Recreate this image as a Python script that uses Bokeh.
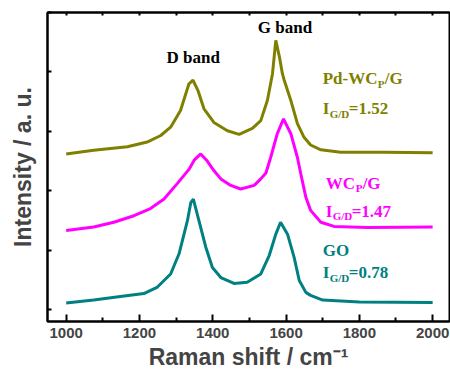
from bokeh.plotting import figure
from bokeh.models import Range1d, LinearAxis, Label, FixedTicker, CustomJSTickFormatter
from bokeh.embed import file_html
from bokeh.resources import INLINE

# ---- data (Raman shift in cm^-1, intensity in offset arbitrary units) ----
go_shift = [1000, 1075, 1148, 1212, 1249, 1285, 1308, 1331, 1340, 1347, 1362, 1381, 1399, 1422,
            1458, 1494, 1531, 1554, 1572, 1585, 1604, 1622, 1636, 1654, 1667, 1700, 1800, 2000]
go_int = [0.11, 0.16, 0.22, 0.27, 0.38, 0.60, 0.94, 1.50, 1.80, 1.86, 1.50, 1.05, 0.71, 0.54,
          0.44, 0.46, 0.60, 0.91, 1.27, 1.47, 1.27, 0.88, 0.49, 0.29, 0.24, 0.16, 0.13, 0.12]

wc_shift = [1000, 1075, 1130, 1185, 1230, 1267, 1303, 1335, 1350, 1367, 1385, 1403, 1422, 1449,
            1476, 1513, 1531, 1545, 1558, 1576, 1593, 1613, 1631, 1640, 1654, 1667, 1695, 1731, 1822, 2000]
wc_int = [1.33, 1.39, 1.47, 1.58, 1.70, 1.86, 2.12, 2.36, 2.52, 2.62, 2.50, 2.34, 2.20, 2.09,
          2.03, 2.09, 2.20, 2.30, 2.56, 2.96, 3.21, 2.96, 2.56, 2.29, 1.89, 1.67, 1.47, 1.40, 1.38, 1.39]

pd_shift = [1000, 1075, 1167, 1221, 1258, 1285, 1312, 1335, 1346, 1360, 1376, 1403, 1440, 1472,
            1508, 1531, 1549, 1563, 1572, 1582, 1590, 1595, 1613, 1631, 1649, 1667, 1695, 1749, 1867, 2000]
pd_int = [2.62, 2.68, 2.74, 2.82, 2.93, 3.07, 3.35, 3.80, 3.86, 3.68, 3.38, 3.15, 3.01, 2.95,
          3.05, 3.18, 3.52, 3.97, 4.53, 4.25, 3.97, 3.86, 3.52, 3.13, 2.90, 2.77, 2.69, 2.65, 2.65, 2.64]

x_major_ticks = [1000, 1200, 1400, 1600, 1800, 2000]
x_minor_ticks = [1100, 1300, 1500, 1700, 1900]
x_top_ticks = [1000, 1100, 1200, 1300, 1400, 1500, 1600, 1700, 1800, 1900, 2000]
y_ticks = [0, 1, 2, 3, 4, 5]

OLIVE = "#808000"
MAGENTA = "#FF00FF"
TEAL = "#008080"
SANS = "Liberation Sans"
SERIF = "Liberation Serif"

p = figure(width=450, height=373, output_backend="svg", toolbar_location=None,
           x_range=Range1d(949, 2046), y_range=Range1d(-0.2, 5.0),
           min_border_left=47, min_border_right=1, min_border_top=12, min_border_bottom=52)
p.grid.visible = False
p.outline_line_color = "black"
p.outline_line_width = 2
p.background_fill_color = "white"
p.border_fill_color = "white"

# bottom axis
xa = p.xaxis[0]
xa.ticker = FixedTicker(ticks=x_major_ticks, minor_ticks=x_minor_ticks)
xa.major_tick_in = 7
xa.major_tick_out = 0
xa.minor_tick_in = 4
xa.minor_tick_out = 0
xa.axis_line_width = 2
xa.major_tick_line_width = 2
xa.minor_tick_line_width = 2
xa.major_label_text_font = SANS
xa.major_label_text_font_style = "bold"
xa.major_label_text_font_size = "15px"
xa.major_label_standoff = 6
xa.axis_label = "Raman shift / cm\u207b\u00b9"
xa.axis_label_text_font = SANS
xa.axis_label_text_font_style = "bold"
xa.axis_label_text_font_size = "23px"
xa.axis_label_standoff = 3

# left axis
ya = p.yaxis[0]
ya.ticker = FixedTicker(ticks=y_ticks, minor_ticks=[])
ya.major_tick_in = 4
ya.major_tick_out = 0
ya.axis_line_width = 2
ya.major_tick_line_width = 2
ya.formatter = CustomJSTickFormatter(code="return ''")
ya.major_label_standoff = 0
ya.axis_label = "Intensity / a. u."
ya.axis_label_text_font = SANS
ya.axis_label_text_font_style = "bold"
ya.axis_label_text_font_size = "23px"
ya.axis_label_standoff = 12

# top axis (ticks only)
top = LinearAxis(ticker=FixedTicker(ticks=x_top_ticks, minor_ticks=[]),
                 formatter=CustomJSTickFormatter(code="return ''"),
                 major_tick_in=3, major_tick_out=0, axis_line_width=2,
                 major_tick_line_width=2, major_label_standoff=0,
                 major_label_text_font_size="0px")
p.add_layout(top, "above")

# spectra
p.line(go_shift, go_int, line_color=TEAL, line_width=3)
p.line(wc_shift, wc_int, line_color=MAGENTA, line_width=3)
p.line(pd_shift, pd_int, line_color=OLIVE, line_width=3)


def lab(text, x, y, color, size="17px", dx=0, dy=0, font=SERIF):
    p.add_layout(Label(x=x, y=y, x_units="data", y_units="data", text=text,
                       x_offset=dx, y_offset=dy + 5, text_font=font, text_font_style="bold",
                       text_font_size=size, text_color=color, text_align="left",
                       text_baseline="alphabetic"))


lab("D band", 1274, 4.16, "black")
lab("G band", 1523, 4.66, "black")

lab("Pd-WC", 1700, 3.80, OLIVE)
lab("P", 1700, 3.80, OLIVE, size="11px", dx=55, dy=-5)
lab("/G", 1700, 3.80, OLIVE, dx=62)
lab("I", 1700, 3.30, OLIVE)
lab("G/D", 1700, 3.30, OLIVE, size="11px", dx=7, dy=-5)
lab("=1.52", 1700, 3.30, OLIVE, dx=26)

lab("WC", 1708, 2.04, MAGENTA)
lab("P", 1708, 2.04, MAGENTA, size="11px", dx=30, dy=-5)
lab("/G", 1708, 2.04, MAGENTA, dx=37)
lab("I", 1708, 1.57, MAGENTA)
lab("G/D", 1708, 1.57, MAGENTA, size="11px", dx=7, dy=-5)
lab("=1.47", 1708, 1.57, MAGENTA, dx=26)

lab("GO", 1700, 0.91, TEAL)
lab("I", 1700, 0.54, TEAL)
lab("G/D", 1700, 0.54, TEAL, size="11px", dx=7, dy=-5)
lab("=0.78", 1700, 0.54, TEAL, dx=26)

open("out.html", "w").write(file_html(p, INLINE))
